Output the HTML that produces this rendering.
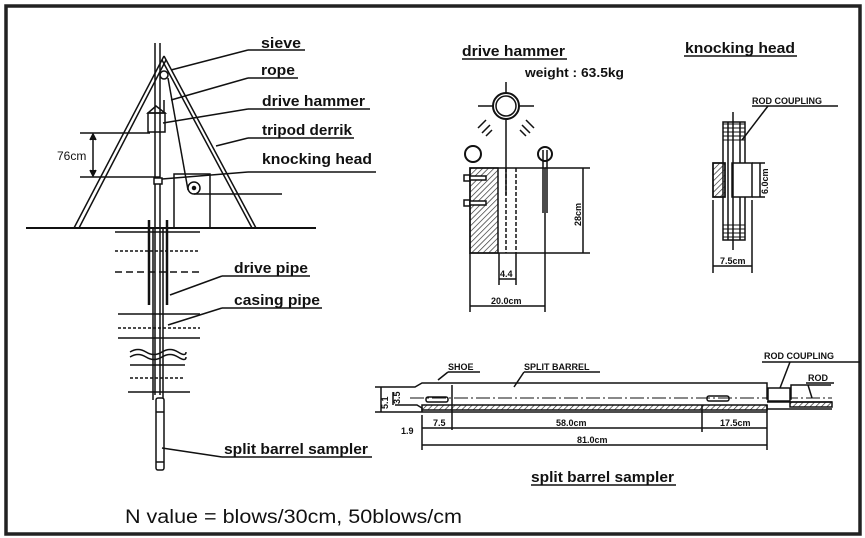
<!DOCTYPE html>
<html><head><meta charset="utf-8"><style>
html,body{margin:0;padding:0;background:#fff;}
svg{display:block;}
text{font-family:"Liberation Sans",Arial,sans-serif;fill:#111;}
.l{font-size:15px;font-weight:bold;}
.s{font-size:9px;font-weight:bold;}
</style></head><body>
<svg width="865" height="538" viewBox="0 0 865 538" xmlns="http://www.w3.org/2000/svg">
<defs>
<pattern id="h" width="4" height="4" patternUnits="userSpaceOnUse" patternTransform="rotate(45)">
<line x1="0" y1="0" x2="0" y2="4" stroke="#222" stroke-width="1.3"/></pattern>
</defs>
<rect x="0" y="0" width="865" height="538" fill="#fff"/>
<rect x="6" y="6" width="854" height="528" fill="none" stroke="#222" stroke-width="3.5"/>
<g stroke="#111" fill="none" stroke-width="1.5">
<!-- tripod -->
<line x1="155" y1="43" x2="155" y2="395"/><line x1="160" y1="43" x2="160" y2="395"/>
<line x1="164" y1="56" x2="74" y2="228"/><line x1="166" y1="60" x2="79" y2="228"/>
<line x1="164" y1="56" x2="256" y2="228"/><line x1="162" y1="60" x2="252" y2="228"/>
<line x1="26" y1="228" x2="316" y2="228" stroke-width="2"/>
<circle cx="164" cy="75" r="4"/>
<line x1="168" y1="78" x2="188" y2="190"/>
<line x1="164" y1="100" x2="164" y2="113"/>
<path d="M148 113 L156 106 L165 113 Z"/>
<rect x="148" y="113" width="17" height="19"/>
<line x1="80" y1="133" x2="150" y2="133"/><line x1="80" y1="177" x2="160" y2="177"/>
<line x1="93" y1="135" x2="93" y2="175"/>
<path d="M90 140 L93 134 L96 140 M90 170 L93 176 L96 170" fill="#111"/>
<rect x="154" y="178" width="8" height="6" fill="#fff"/>
<rect x="174" y="174" width="36" height="54"/>
<circle cx="194" cy="188" r="6"/><circle cx="194" cy="188" r="1.5" fill="#111"/>
<line x1="194" y1="194" x2="282" y2="194"/>
<!-- leaders -->
<line x1="171" y1="70" x2="248" y2="50"/><line x1="248" y1="50" x2="305" y2="50"/>
<line x1="171" y1="100" x2="248" y2="78"/><line x1="248" y1="78" x2="298" y2="78"/>
<line x1="163" y1="123" x2="248" y2="109"/><line x1="248" y1="109" x2="370" y2="109"/>
<line x1="216" y1="146" x2="248" y2="138"/><line x1="248" y1="138" x2="354" y2="138"/>
<line x1="162" y1="179" x2="248" y2="172"/><line x1="248" y1="172" x2="376" y2="172"/>
<!-- below ground -->
<line x1="149" y1="220" x2="149" y2="305" stroke-width="2.5"/><line x1="167" y1="220" x2="167" y2="305" stroke-width="2.5"/>
<line x1="153" y1="228" x2="153" y2="400"/><line x1="163" y1="228" x2="163" y2="400"/>
<line x1="115" y1="232" x2="200" y2="232"/>
<line x1="115" y1="251" x2="200" y2="251" stroke-dasharray="3 2"/>
<line x1="115" y1="272" x2="200" y2="272" stroke-dasharray="7 4"/>
<line x1="118" y1="314" x2="200" y2="314"/>
<line x1="118" y1="328" x2="200" y2="328" stroke-dasharray="3 2"/>
<line x1="118" y1="338" x2="200" y2="338"/>
<path d="M130 352 q8 -5 16 0 t16 0 t16 0 t8 0 M130 357 q8 -5 16 0 t16 0 t16 0 t8 0"/>
<line x1="130" y1="365" x2="185" y2="365"/>
<line x1="130" y1="378" x2="185" y2="378" stroke-dasharray="3 2"/>
<line x1="128" y1="392" x2="190" y2="392"/>
<rect x="156" y="398" width="8" height="72" rx="2" fill="#fff"/>
<line x1="156" y1="412" x2="164" y2="412"/><line x1="156" y1="462" x2="164" y2="462"/>
<line x1="170" y1="295" x2="222" y2="276"/><line x1="222" y1="276" x2="310" y2="276"/>
<line x1="168" y1="325" x2="222" y2="308"/><line x1="222" y1="308" x2="322" y2="308"/>
<line x1="162" y1="448" x2="222" y2="457"/><line x1="222" y1="457" x2="372" y2="457"/>
<!-- drive hammer -->
<line x1="462" y1="59" x2="567" y2="59"/>
<circle cx="506" cy="106" r="13" stroke-width="2"/><circle cx="506" cy="106" r="10"/>
<line x1="506" y1="82" x2="506" y2="93"/><line x1="478" y1="106" x2="493" y2="106"/><line x1="519" y1="106" x2="534" y2="106"/>
<line x1="506" y1="119" x2="506" y2="195"/>
<path d="M478 128 l8 -8 M482 133 l8 -8 M486 136 l6 -6 M534 128 l-8 -8 M530 133 l-8 -8 M526 136 l-6 -6"/>
<circle cx="473" cy="154" r="8" stroke-width="2"/><circle cx="545" cy="154" r="7" stroke-width="2"/>
<line x1="547" y1="150" x2="547" y2="213"/><line x1="543" y1="150" x2="543" y2="213"/>
<rect x="470" y="168" width="28" height="85" fill="url(#h)"/>
<rect x="470" y="168" width="75" height="85"/>
<line x1="506" y1="168" x2="506" y2="253" stroke-dasharray="4 2"/><line x1="516" y1="168" x2="516" y2="253" stroke-dasharray="4 2"/>
<rect x="464" y="175" width="6" height="6"/><rect x="464" y="200" width="6" height="6"/>
<rect x="470" y="176" width="16" height="4" fill="#fff"/><rect x="470" y="201" width="16" height="4" fill="#fff"/>
<line x1="545" y1="168" x2="590" y2="168"/><line x1="545" y1="253" x2="590" y2="253"/>
<line x1="583" y1="168" x2="583" y2="253"/>
<line x1="499" y1="253" x2="499" y2="285"/><line x1="516" y1="253" x2="516" y2="285"/>
<line x1="499" y1="279" x2="516" y2="279"/>
<line x1="470" y1="253" x2="470" y2="312"/><line x1="545" y1="253" x2="545" y2="312"/>
<line x1="470" y1="306" x2="545" y2="306"/>
<!-- knocking head -->
<line x1="684" y1="56" x2="797" y2="56"/>
<rect x="723" y="122" width="22" height="118"/>
<line x1="728" y1="122" x2="728" y2="240"/><line x1="740" y1="122" x2="740" y2="240"/>
<path d="M723 124 h22 M723 128 h22 M723 132 h22 M723 136 h22 M723 140 h22 M723 225 h22 M723 229 h22 M723 233 h22 M723 237 h22" stroke-width="1"/>
<rect x="713" y="163" width="12" height="34" fill="url(#h)"/>
<rect x="713" y="163" width="12" height="34"/>
<rect x="732" y="163" width="20" height="34" fill="#fff"/>
<line x1="733" y1="112" x2="733" y2="250"/>
<line x1="752" y1="163" x2="765" y2="163"/><line x1="752" y1="197" x2="765" y2="197"/>
<line x1="760" y1="163" x2="760" y2="197"/>
<line x1="713" y1="200" x2="713" y2="273"/><line x1="752" y1="200" x2="752" y2="273"/>
<line x1="713" y1="266" x2="752" y2="266"/>
<line x1="742" y1="140" x2="768" y2="106"/><line x1="752" y1="106" x2="838" y2="106"/>
<!-- split barrel -->
<line x1="375" y1="387" x2="395" y2="387"/><line x1="375" y1="412" x2="430" y2="412"/>
<line x1="381" y1="387" x2="381" y2="412"/><line x1="393" y1="392" x2="393" y2="405"/>
<path d="M395 387 h20 l7 -4 h345 v16 h24 v-14 h40"/>
<path d="M395 405 h22 l5 3 v4 M430 412 h337"/>
<line x1="410" y1="398" x2="832" y2="398" stroke-dasharray="14 3 2 3" stroke-width="1"/>
<rect x="422" y="405" width="345" height="5" fill="url(#h)"/>
<rect x="790" y="402" width="42" height="5" fill="url(#h)"/>
<line x1="767" y1="402" x2="832" y2="402"/><line x1="767" y1="409" x2="832" y2="409"/>
<rect x="768" y="388" width="22" height="13" fill="#fff"/>
<rect x="426" y="397" width="22" height="5" rx="2"/><rect x="707" y="396" width="22" height="5" rx="2"/>
<line x1="452" y1="385" x2="452" y2="430"/>
<line x1="422" y1="415" x2="422" y2="450"/><line x1="767" y1="405" x2="767" y2="450"/>
<line x1="702" y1="405" x2="702" y2="432"/>
<line x1="422" y1="428" x2="767" y2="428"/><line x1="422" y1="445" x2="767" y2="445"/>
<line x1="438" y1="380" x2="448" y2="372"/><line x1="448" y1="372" x2="480" y2="372"/>
<line x1="514" y1="387" x2="524" y2="372"/><line x1="524" y1="372" x2="600" y2="372"/>
<line x1="780" y1="388" x2="790" y2="362"/><line x1="762" y1="362" x2="860" y2="362"/>
<line x1="812" y1="398" x2="808" y2="385"/><line x1="806" y1="383" x2="834" y2="383"/>
<line x1="531" y1="485" x2="676" y2="485"/>
</g>
<text x="261" y="48" class="l" textLength="40" lengthAdjust="spacingAndGlyphs">sieve</text>
<text x="261" y="75" class="l" textLength="34" lengthAdjust="spacingAndGlyphs">rope</text>
<text x="262" y="106" class="l" textLength="103" lengthAdjust="spacingAndGlyphs">drive hammer</text>
<text x="262" y="135" class="l" textLength="90" lengthAdjust="spacingAndGlyphs">tripod derrik</text>
<text x="262" y="164" class="l" textLength="110" lengthAdjust="spacingAndGlyphs">knocking head</text>
<text x="57" y="160" style="font-size:12px">76cm</text>
<text x="234" y="273" class="l" textLength="74" lengthAdjust="spacingAndGlyphs">drive pipe</text>
<text x="234" y="305" class="l" textLength="86" lengthAdjust="spacingAndGlyphs">casing pipe</text>
<text x="224" y="454" class="l" textLength="144" lengthAdjust="spacingAndGlyphs">split barrel sampler</text>
<text x="125" y="523" style="font-size:19px" textLength="337" lengthAdjust="spacingAndGlyphs">N value = blows/30cm,  50blows/cm</text>
<text x="462" y="56" class="l" textLength="103" lengthAdjust="spacingAndGlyphs">drive hammer</text>
<text x="525" y="77" style="font-size:13px;font-weight:bold" textLength="99" lengthAdjust="spacingAndGlyphs">weight : 63.5kg</text>
<text x="685" y="53" class="l" textLength="110" lengthAdjust="spacingAndGlyphs">knocking head</text>
<text x="752" y="104" class="s">ROD COUPLING</text>
<text x="0" y="0" class="s" transform="translate(581,226) rotate(-90)">28cm</text>
<text x="0" y="0" class="s" transform="translate(768,194) rotate(-90)">6.0cm</text>
<text x="500" y="277" class="s">4.4</text>
<text x="491" y="304" class="s">20.0cm</text>
<text x="720" y="264" class="s">7.5cm</text>
<text x="448" y="370" class="s">SHOE</text>
<text x="524" y="370" class="s">SPLIT BARREL</text>
<text x="764" y="359" class="s">ROD COUPLING</text>
<text x="808" y="381" class="s">ROD</text>
<text x="0" y="0" class="s" transform="translate(388,409) rotate(-90)">5.1</text>
<text x="0" y="0" class="s" transform="translate(400,404) rotate(-90)">3.5</text>
<text x="401" y="434" class="s">1.9</text>
<text x="433" y="426" class="s">7.5</text>
<text x="556" y="426" class="s">58.0cm</text>
<text x="720" y="426" class="s">17.5cm</text>
<text x="577" y="443" class="s">81.0cm</text>
<text x="531" y="482" class="l" textLength="143" lengthAdjust="spacingAndGlyphs">split barrel sampler</text>
</svg>
</body></html>
